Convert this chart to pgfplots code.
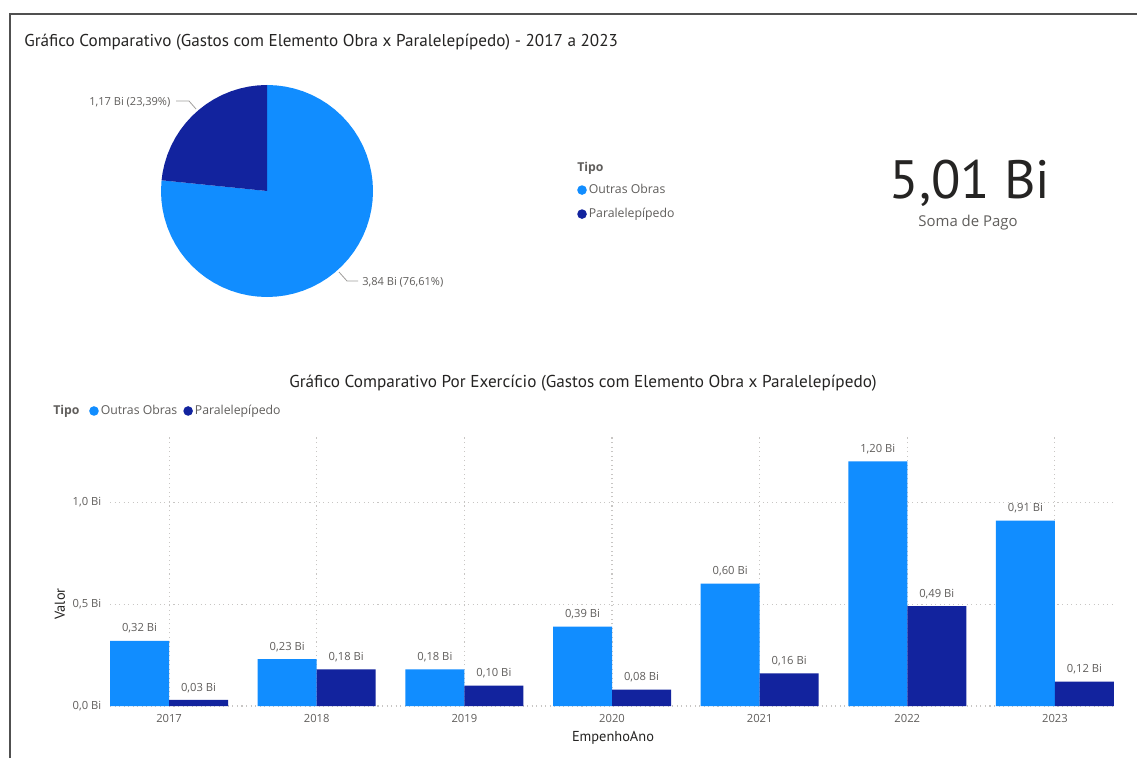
\documentclass[border=0pt]{standalone}
\usepackage{pgfplots}
\pgfplotsset{compat=1.18}
\usepackage{fontspec}
\setmainfont{Open Sans}
\newfontfamily\titlefont{PT Sans}
\definecolor{pbLight}{HTML}{118DFF}
\definecolor{pbDark}{HTML}{12239E}
\definecolor{txtDark}{HTML}{252423}
\definecolor{txtGray}{HTML}{605E5C}
\definecolor{gridGray}{HTML}{C8C6C4}
\definecolor{frameGray}{HTML}{505050}
\definecolor{leadGray}{HTML}{A19F9D}
\begin{document}
\begin{tikzpicture}
\path[use as bounding box] (0,0) rectangle (852.75pt,568.5pt);
\fill[white] (0,0) rectangle (852.75pt,568.5pt);
% frame
\draw[frameGray, line width=1.4pt] (7.5pt,0pt) -- (7.5pt,558pt) -- (852.75pt,558pt);

% ---------------- pie ----------------
\begin{axis}[
  at={(200.25pt,425.25pt)}, anchor=center,
  scale only axis, width=159pt, height=159pt,
  xmin=-1, xmax=1, ymin=-1, ymax=1,
  hide axis,
  legend cell align=left,
  legend style={at={(1.962,0.545)}, anchor=north west, draw=none, fill=none,
    font=\fontsize{9.2pt}{11pt}\selectfont, text=txtGray, inner sep=0pt,
    row sep=5.5pt, nodes={inner xsep=1.5pt}},
  legend image code/.code={\fill[#1,draw=none] (0pt,0pt) circle (3.6pt);},
]
\addplot[data cs=polar, fill=pbLight, draw=none] coordinates {
 (0,0) (174.2,1) (180,1) (185,1) (190,1) (195,1) (200,1) (205,1) (210,1) (215,1)
 (220,1) (225,1) (230,1) (235,1) (240,1) (245,1) (250,1) (255,1) (260,1) (265,1)
 (270,1) (275,1) (280,1) (285,1) (290,1) (295,1) (300,1) (305,1) (310,1) (315,1)
 (320,1) (325,1) (330,1) (335,1) (340,1) (345,1) (350,1) (355,1) (360,1) (365,1)
 (370,1) (375,1) (380,1) (385,1) (390,1) (395,1) (400,1) (405,1) (410,1) (415,1)
 (420,1) (425,1) (430,1) (435,1) (440,1) (445,1) (450,1) (0,0)
};
\addlegendentry{Outras Obras}
\addplot[data cs=polar, fill=pbDark, draw=none] coordinates {
 (0,0) (90,1) (95,1) (100,1) (105,1) (110,1) (115,1) (120,1) (125,1) (130,1)
 (135,1) (140,1) (145,1) (150,1) (155,1) (160,1) (165,1) (170,1) (174.2,1) (0,0)
};
\addlegendentry{Paralelepípedo}
\end{axis}

% ---------------- bars ----------------
\begin{axis}[
  at={(82.5pt,39pt)}, anchor=south west,
  scale only axis, width=753pt, height=201.75pt,
  ybar,
  xmin=-0.4, xmax=6.4, ymin=0, ymax=1.32,
  xtick={0,1,2,3,4,5,6},
  xticklabels={2017,2018,2019,2020,2021,2022,2023},
  ytick={0,0.5,1},
  yticklabels={{0,0 Bi},{0,5 Bi},{1,0 Bi}},
  axis line style={draw=none},
  major tick length=0pt,
  xmajorgrids, ymajorgrids,
  grid style={gridGray, line width=0.8pt, dash pattern=on 0.8pt off 2.6pt},
  tick label style={font=\fontsize{8.4pt}{10pt}\selectfont, text=txtGray},
  yticklabel style={xshift=-3pt},
  xticklabel style={yshift=-2.5pt},
  /pgf/number format/assume math mode=true,
  bar width=44.25pt,
  nodes near coords={\pgfmathprintnumber[fixed,fixed zerofill,precision=2,use comma]{\pgfplotspointmeta}~Bi},
  nodes near coords style={font=\fontsize{8.4pt}{10pt}\selectfont, text=txtGray, yshift=2pt},
  legend cell align=left,
  legend style={at={(-0.021,1.0967)}, anchor=west, draw=none, fill=none,
    font=\fontsize{9.2pt}{11pt}\selectfont, text=txtGray, inner sep=0pt,
    nodes={inner xsep=1.5pt},
    /tikz/every even column/.append style={column sep=3pt}},
  legend columns=2,
  legend image code/.code={\fill[#1,draw=none] (0pt,0pt) circle (3.6pt);},
]
\addplot[fill=pbLight, draw=none, bar shift=-22.125pt] coordinates {
 (0,0.32) (1,0.23) (2,0.18) (3,0.39) (4,0.60) (5,1.20) (6,0.91)};
\addlegendentry{Outras Obras}
\addplot[fill=pbDark, draw=none, bar shift=22.125pt] coordinates {
 (0,0.03) (1,0.18) (2,0.10) (3,0.08) (4,0.16) (5,0.49) (6,0.12)};
\addlegendentry{Paralelepípedo}
\end{axis}

% ---------------- texts ----------------
\begin{scope}[x=0.75pt, y=-0.75pt, yshift=568.5pt]
\node[anchor=west, inner sep=0pt, text=txtDark, font=\titlefont\fontsize{12.85pt}{15pt}\selectfont] at (24,42)
  {Gráfico Comparativo (Gastos com Elemento Obra x Paralelepípedo) - 2017 a 2023};
\node[inner sep=0pt, text=txtDark, font=\titlefont\fontsize{12.9pt}{15pt}\selectfont] at (583,383)
  {Gráfico Comparativo Por Exercício (Gastos com Elemento Obra x Paralelepípedo)};
% pie labels
\node[anchor=west, inner sep=0pt, text=txtGray, font=\fontsize{8.3pt}{10pt}\selectfont] at (89,102) {1,17 Bi (23,39\%)};
\draw[leadGray, line width=0.6pt] (176,101) -- (189,101) -- (196,109);
\node[anchor=west, inner sep=0pt, text=txtGray, font=\fontsize{8.3pt}{10pt}\selectfont] at (362,282) {3,84 Bi (76,61\%)};
\draw[leadGray, line width=0.6pt] (339,272) -- (347,281) -- (358,281);
% card
\node[inner sep=0pt, text=txtDark, font=\titlefont\fontsize{40.5pt}{45pt}\selectfont] at (970,183) {5,01 Bi};
\node[inner sep=0pt, text=txtGray, font=\fontsize{11.2pt}{13pt}\selectfont] at (968,223) {Soma de Pago};
% legend titles
\node[anchor=west, inner sep=0pt, text=txtGray, font=\bfseries\fontsize{9.2pt}{11pt}\selectfont] at (577,168) {Tipo};
\node[anchor=west, inner sep=0pt, text=txtGray, font=\bfseries\fontsize{9.2pt}{11pt}\selectfont] at (53,411) {Tipo};
% axis titles
\node[rotate=90, inner sep=0pt, text=txtDark, font=\titlefont\fontsize{10.8pt}{12pt}\selectfont] at (60,604) {Valor};
\node[inner sep=0pt, text=txtDark, font=\titlefont\fontsize{10.8pt}{12pt}\selectfont] at (613,738) {EmpenhoAno};
\end{scope}
\end{tikzpicture}
\end{document}
